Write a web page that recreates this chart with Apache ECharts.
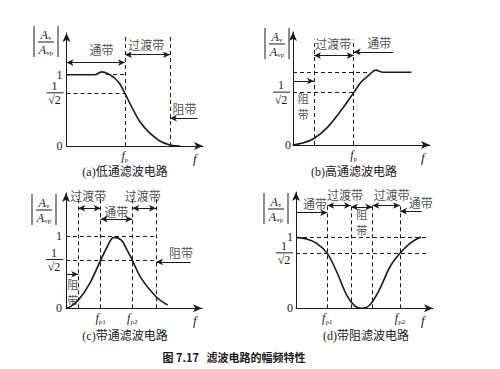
<!DOCTYPE html>
<html><head><meta charset="utf-8">
<script src="https://cdn.jsdelivr.net/npm/echarts@6/dist/echarts.min.js"></script>
<style>html,body{margin:0;padding:0;background:#fff}#c{width:500px;height:369px}</style>
</head><body><div id="c"></div>
<script>
// ---------- data ----------
// (a) low-pass response
const lowPassX = [0, 2.08, 2.57, 3.18, 3.54, 3.91, 4.28, 4.77, 5.38, 6.11, 6.84, 7.58, 8.31];
const lowPassY = [1.0, 1.0, 1.04, 1.0, 0.95, 0.87, 0.739, 0.55, 0.34, 0.18, 0.07, 0.014, 0];
// (b) high-pass response
const highPassX = [0, 0.61, 1.53, 2.55, 3.53, 4.43, 4.99, 5.6, 6.04, 6.57, 8.64];
const highPassY = [0, 0.023, 0.09, 0.25, 0.48, 0.72, 0.87, 0.97, 1.03, 1.0, 1.0];
// (c) band-pass response
const bandPassX = [0, 0.29, 0.9, 1.75, 2.55, 2.97, 3.34, 3.58, 4.07, 4.43, 4.87, 5.53, 6.62, 7.47];
const bandPassY = [0, 0.02, 0.11, 0.344, 0.665, 0.826, 0.955, 0.978, 0.94, 0.826, 0.665, 0.413, 0.16, 0.045];
// (d) band-stop response
const bandStopX = [0, 0.78, 1.51, 2.28, 2.97, 3.7, 4.31, 4.8, 5.4, 6.13, 6.86, 7.59, 8.32, 8.93, 9.12];
const bandStopY = [1.0, 0.976, 0.915, 0.775, 0.515, 0.187, 0.03, 0, 0.05, 0.28, 0.586, 0.775, 0.915, 0.99, 1.0];

// band edge frequencies (dashed verticals)
const lowPassEdges = [4.28, 7.58];
const highPassEdges = [1.53, 4.43];
const bandPassEdges = [0.9, 2.55, 4.87, 6.62];
const bandStopEdges = [2.28, 4.01, 5.57, 7.59];

// gain levels [1/sqrt2 as drawn, 1]
const lowPassLevels = [0.739, 1];
const highPassLevels = [0.72, 1];
const bandPassLevels = [0.665, 1];
const bandStopLevels = [0.775, 1];

// tick labels
const lowPassXTicks = [4.28], lowPassXTickSubs = ['p'];
const highPassXTicks = [4.43], highPassXTickSubs = ['p'];
const bandPassXTicks = [2.55, 4.87], bandPassXTickSubs = ['p1', 'p2'];
const bandStopXTicks = [2.28, 7.59], bandStopXTickSubs = ['p1', 'p2'];
const lowPassYTicks = [0, 1];
const highPassYTicks = [0];
const bandPassYTicks = [0, 1];
const bandStopYTicks = [0, 1];

const panelTitles = ['(a)低通滤波电路', '(b)高通滤波电路', '(c)带通滤波电路', '(d)带阻滤波电路'];
const figureCaption = '图 7.17   滤波电路的幅频特性';

// ---------- styling / layout ----------
const INK = '#1a1a1a';
const SERIF = "'Liberation Serif', 'DejaVu Serif', serif";
const CJK = "'Noto Sans CJK SC', sans-serif";
const MIX = "'Liberation Serif', 'Noto Sans CJK SC', serif";

const panels = [
  { x: lowPassX, y: lowPassY, edges: lowPassEdges, levels: lowPassLevels,
    xt: lowPassXTicks, xs: lowPassXTickSubs, yt: lowPassYTicks,
    grid: { left: 66.5, top: 33, width: 136.5, height: 113 }, ymax: 1.585, ymargin: 4, fGap: -10,
    vTop: 1.53, hDash: [[1, 2.9, 4.28], [0.739, 0, 4.28]],
    arrows: [[0, 1.17, 4.28, 1.17, 2], [4.28, 1.28, 7.58, 1.28, 2], [9.6, 0.39, 7.58, 0.39, 1]],
    texts: [['通带', 2.57, 1.35, 12], ['过渡带', 5.85, 1.42, 12], ['阻带', 8.64, 0.53, 12]],
    yname: [46, 26], title: [125, 166] },
  { x: highPassX, y: highPassY, edges: highPassEdges, levels: highPassLevels,
    xt: highPassXTicks, xs: highPassXTickSubs, yt: highPassYTicks,
    grid: { left: 293, top: 32, width: 137, height: 113 }, ymax: 1.554, ymargin: 2, fGap: -9,
    vTop: 1.45, hDash: [[1, 0, 5.47], [0.72, 0, 4.43]],
    arrows: [[0, 0.88, 1.53, 0.88, 1], [1.53, 1.23, 4.43, 1.23, 2], [7.3, 1.28, 4.43, 1.28, 1]],
    texts: [['过渡带', 2.94, 1.39, 12], ['通带', 6.3, 1.41, 12], ['阻', 0.75, 0.645, 11], ['带', 0.75, 0.425, 11]],
    yname: [277, 28], title: [354, 166] },
  { x: bandPassX, y: bandPassY, edges: bandPassEdges, levels: bandPassLevels,
    xt: bandPassXTicks, xs: bandPassXTickSubs, yt: bandPassYTicks,
    grid: { left: 66, top: 193, width: 136, height: 115.3 }, ymax: 1.59, ymargin: 4, fGap: -9,
    vTop: 1.56, hDash: [[1, 0, 6.62], [0.665, 0, 6.62]],
    arrows: [[0, 0.47, 0.9, 0.47, 1], [0.9, 1.38, 2.55, 1.38, 2], [2.55, 1.23, 4.87, 1.23, 2],
             [4.87, 1.38, 6.62, 1.38, 2], [9.17, 0.64, 6.62, 0.64, 1]],
    texts: [['过渡带', 1.63, 1.55, 12], ['通带', 3.7, 1.33, 12], ['过渡带', 5.64, 1.55, 12], ['阻带', 8.45, 0.77, 12],
            ['阻', 0.49, 0.34, 11], ['带', 0.49, 0.12, 11]],
    yname: [44, 194], title: [125, 330] },
  { x: bandStopX, y: bandStopY, edges: bandStopEdges, levels: bandStopLevels,
    xt: bandStopXTicks, xs: bandStopXTickSubs, yt: bandStopYTicks,
    grid: { left: 296, top: 192, width: 137, height: 116.3 }, ymax: 1.64, ymargin: 3, fGap: -12,
    vTop: 1.48, hDash: [[1, 0, 9.66], [0.775, 0, 9.66]],
    arrows: [[0.07, 1.35, 2.28, 1.35, 1], [2.28, 1.45, 4.01, 1.45, 2], [4.01, 1.43, 5.57, 1.43, 2],
             [5.57, 1.45, 7.59, 1.45, 2], [9.17, 1.37, 7.59, 1.37, 1]],
    texts: [['通带', 1.39, 1.48, 12], ['过渡带', 3.58, 1.61, 12], ['阻', 4.8, 1.33, 11], ['带', 4.8, 1.105, 11],
            ['过渡带', 6.98, 1.61, 12], ['通带', 9.1, 1.49, 12]],
    yname: [276, 193], title: [366, 330] }
];

const grids = [], xAxes = [], yAxes = [], series = [], titles = [], graphics = [];

const fracRich = {
  n: { fontFamily: SERIF, fontSize: 12, color: INK, width: 18, align: 'center', lineHeight: 12 },
  bar: { width: 17, height: 1, lineHeight: 2, fontSize: 1, backgroundColor: INK },
  d: { fontFamily: SERIF, fontSize: 12, color: INK, width: 18, align: 'center', lineHeight: 13 }
};

panels.forEach((p, i) => {
  grids.push(Object.assign({ containLabel: false, outerBoundsMode: 'none' }, p.grid));
  xAxes.push({
    type: 'value', gridIndex: i, min: 0, max: 10,
    axisLine: { show: true, onZero: false, symbol: ['none', 'arrow'], symbolSize: [6, 9], lineStyle: { color: INK, width: 1 } },
    axisTick: { show: false }, splitLine: { show: false },
    axisLabel: {
      customValues: p.xt, margin: 3, hideOverlap: false, interval: 0,
      formatter: v => { const k = p.xt.indexOf(v); return '{i|f}{s|' + (k >= 0 ? p.xs[k] : '') + '}'; },
      rich: {
        i: { fontFamily: SERIF, fontStyle: 'italic', fontSize: 12, color: INK, lineHeight: 14 },
        s: { fontFamily: SERIF, fontSize: 7, color: INK, verticalAlign: 'bottom', lineHeight: 14, padding: [4, 0, 0, 0] }
      }
    },
    name: 'f', nameLocation: 'end', nameGap: p.fGap,
    nameTextStyle: { fontFamily: SERIF, fontStyle: 'italic', fontSize: 13, color: INK, verticalAlign: 'top', align: 'left', padding: [6, 0, 0, 0] }
  });
  // main y axis: line, arrow, 0 and 1 labels
  yAxes.push({
    type: 'value', gridIndex: i, min: 0, max: p.ymax, position: 'left',
    axisLine: { show: true, onZero: false, symbol: ['none', 'arrow'], symbolSize: [6, 9], lineStyle: { color: INK, width: 1 } },
    axisTick: { show: false }, splitLine: { show: false },
    axisLabel: {
      customValues: p.yt, margin: p.ymargin, hideOverlap: false, interval: 0,
      fontFamily: SERIF, fontSize: 12, color: INK,
      formatter: v => String(v)
    }
  });
  // companion y axis carrying the 1/sqrt2 label
  yAxes.push({
    type: 'value', gridIndex: i, min: 0, max: p.ymax, position: 'left', offset: 0,
    axisLine: { show: false }, axisTick: { show: false }, splitLine: { show: false },
    axisLabel: {
      customValues: [p.levels[0]], margin: 3, hideOverlap: false, interval: 0,
      formatter: () => '{n|1}\n{bar| }\n{d|√2}',
      rich: fracRich
    }
  });

  const lines = [];
  p.edges.forEach(e => lines.push([
    { coord: [e, 0], symbol: 'none', lineStyle: { type: [4, 3], width: 1, color: INK } },
    { coord: [e, p.vTop], symbol: 'none' }]));
  p.hDash.forEach(h => lines.push([
    { coord: [h[1], h[0]], symbol: 'none', lineStyle: { type: [4, 3], width: 1, color: INK } },
    { coord: [h[2], h[0]], symbol: 'none' }]));
  p.arrows.forEach(a => lines.push([
    { coord: [a[0], a[1]], symbol: a[4] === 2 ? 'arrow' : 'none', lineStyle: { type: 'solid', width: 1, color: INK } },
    { coord: [a[2], a[3]], symbol: 'arrow' }]));

  const yi = i * 2;
  series.push({
    type: 'line', xAxisIndex: i, yAxisIndex: yi,
    data: p.x.map((x, k) => [x, p.y[k]]),
    smooth: 0.35, showSymbol: false, symbol: 'none', silent: true,
    lineStyle: { color: INK, width: 1.6 },
    markLine: {
      silent: true, symbolSize: [5, 7], label: { show: false }, emphasis: { disabled: true },
      animation: false, data: lines
    },
    z: 3
  });
  series.push({
    type: 'scatter', xAxisIndex: i, yAxisIndex: yi, clip: false, silent: true,
    symbolSize: 1, itemStyle: { color: 'rgba(0,0,0,0)' },
    data: p.texts.map(t => ({ value: [t[1], t[2]], name: t[0], label: { fontSize: t[3] } })),
    label: { show: true, position: 'inside', formatter: '{b}', fontFamily: CJK, fontSize: 12, color: INK, lineHeight: 14 }
  });

  titles.push({
    text: panelTitles[i], left: p.title[0], top: p.title[1], textAlign: 'center', padding: 0,
    textStyle: { fontFamily: MIX, fontSize: 12, fontWeight: 'normal', color: INK }
  });

  const cx = p.yname[0], ty = p.yname[1];
  const subRich = { a: { fontFamily: SERIF, fontStyle: 'italic', fontSize: 12, fill: INK },
                    s: { fontFamily: SERIF, fontSize: 7, fill: INK, verticalAlign: 'bottom', padding: [5, 0, 0, 0] } };
  graphics.push({
    type: 'group', x: cx, y: ty, silent: true,
    children: [
      { type: 'line', shape: { x1: -12, y1: 0, x2: -12, y2: 31 }, style: { stroke: INK, lineWidth: 1 } },
      { type: 'line', shape: { x1: 12, y1: 0, x2: 12, y2: 31 }, style: { stroke: INK, lineWidth: 1 } },
      { type: 'line', shape: { x1: -8, y1: 16, x2: 8, y2: 16 }, style: { stroke: INK, lineWidth: 1 } },
      { type: 'text', style: { text: '{a|A}{s|v}', x: 0, y: 9, align: 'center', verticalAlign: 'middle', rich: subRich } },
      { type: 'text', style: { text: '{a|A}{s|vp}', x: 0, y: 24, align: 'center', verticalAlign: 'middle', rich: subRich } }
    ]
  });
});

titles.push({
  text: figureCaption, left: 234, top: 351, textAlign: 'center', padding: 0,
  textStyle: { fontFamily: CJK, fontSize: 11, fontWeight: 'bold', color: INK }
});

const chart = echarts.init(document.getElementById('c'), null, { renderer: 'svg' });
chart.setOption({
  backgroundColor: '#fff', animation: false,
  title: titles, grid: grids, xAxis: xAxes, yAxis: yAxes, series: series, graphic: graphics
});
</script></body></html>
